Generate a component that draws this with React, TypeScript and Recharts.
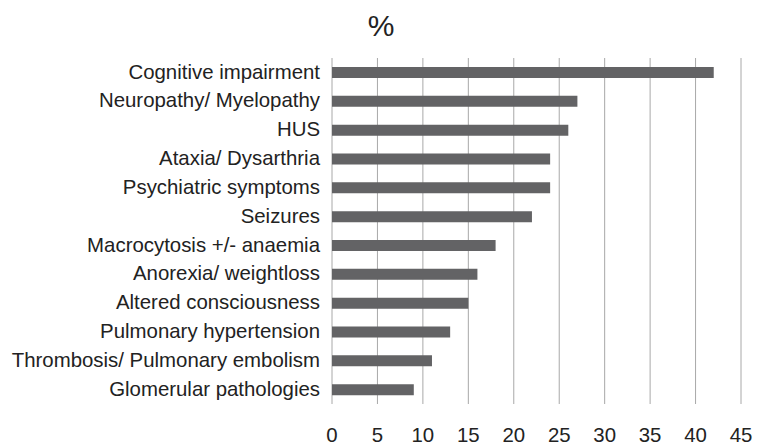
import { BarChart, Bar, XAxis, YAxis, CartesianGrid } from 'recharts'

const symptoms = [
  'Cognitive impairment',
  'Neuropathy/ Myelopathy',
  'HUS',
  'Ataxia/ Dysarthria',
  'Psychiatric symptoms',
  'Seizures',
  'Macrocytosis +/- anaemia',
  'Anorexia/ weightloss',
  'Altered consciousness',
  'Pulmonary hypertension',
  'Thrombosis/ Pulmonary embolism',
  'Glomerular pathologies',
]
const percents = [42, 27, 26, 24, 24, 22, 18, 16, 15, 13, 11, 9]
const xTicks = [0, 5, 10, 15, 20, 25, 30, 35, 40, 45]

const FONT = '"Liberation Sans", Arial, Helvetica, sans-serif'

export default function App() {
  const data = symptoms.map((name, i) => ({ name, value: percents[i] }))

  return (
    <div style={{ position: 'absolute', left: 0, top: 0, width: 771, height: 446, background: '#fff', fontFamily: FONT }}>
      <div
        style={{
          position: 'absolute',
          left: 331,
          top: 11,
          width: 100,
          textAlign: 'center',
          fontSize: 30,
          lineHeight: '30px',
          color: '#222',
        }}
      >
        %
      </div>
      <BarChart
        width={771}
        height={446}
        data={data}
        layout="vertical"
        margin={{ top: 58, right: 30, bottom: 0, left: 0 }}
      >
        <CartesianGrid horizontal={false} stroke="#a8a8a8" strokeWidth={1} />
        <XAxis
          type="number"
          domain={[0, 45]}
          ticks={xTicks}
          interval={0}
          axisLine={false}
          tickLine={false}
          tickSize={0}
          tickMargin={24}
          height={42}
          tick={{ fontSize: 20.4, fill: '#222', fontFamily: FONT }}
        />
        <YAxis
          type="category"
          dataKey="name"
          width={332}
          interval={0}
          axisLine={false}
          tickLine={false}
          tickSize={0}
          tickMargin={12}
          tick={{ fontSize: 20.4, fill: '#222', fontFamily: FONT, dy: -1 }}
        />
        <Bar dataKey="value" fill="#636365" barSize={11} isAnimationActive={false} />
      </BarChart>
    </div>
  )
}
